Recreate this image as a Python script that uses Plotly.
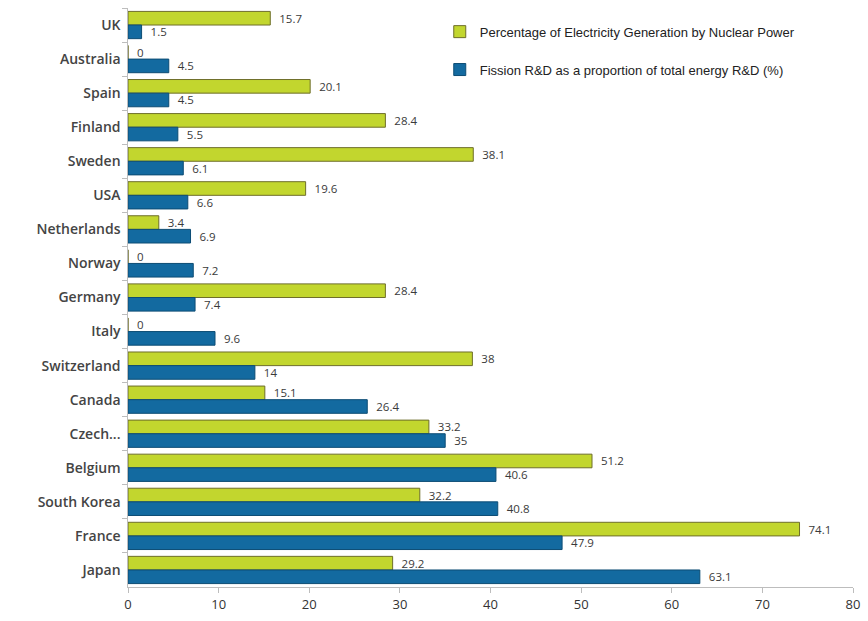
import plotly.graph_objects as go

countries = ["UK", "Australia", "Spain", "Finland", "Sweden", "USA", "Netherlands",
             "Norway", "Germany", "Italy", "Switzerland", "Canada", "Czech...",
             "Belgium", "South Korea", "France", "Japan"]
nuclear_share = [15.7, 0, 20.1, 28.4, 38.1, 19.6, 3.4, 0, 28.4, 0, 38, 15.1, 33.2,
                 51.2, 32.2, 74.1, 29.2]
fission_rd = [1.5, 4.5, 4.5, 5.5, 6.1, 6.6, 6.9, 7.2, 7.4, 9.6, 14, 26.4, 35,
              40.6, 40.8, 47.9, 63.1]
x_ticks = [0, 10, 20, 30, 40, 50, 60, 70, 80]

label_font = dict(family="Open Sans, Arial, sans-serif", size=11.5, color="#3a3a3a")

fig = go.Figure()
fig.add_trace(go.Bar(
    y=countries, x=nuclear_share, orientation="h",
    name="Percentage of Electricity Generation by Nuclear Power",
    marker=dict(color="#c2d62e", line=dict(color="#6e6e2a", width=1)),
    text=[f"  {v:g}" for v in nuclear_share], textposition="outside",
    constraintext="none", textfont=label_font, cliponaxis=False, legendgroup="a",
))
fig.add_trace(go.Bar(
    y=countries, x=fission_rd, orientation="h",
    name="Fission R&D as a proportion of total energy R&D (%)",
    marker=dict(color="#136aa0", line=dict(color="#0c4c74", width=1)),
    text=[f"  {v:g}" for v in fission_rd], textposition="outside",
    constraintext="none", textfont=label_font, cliponaxis=False, legendgroup="b",
))

fig.update_layout(
    width=868, height=621,
    margin=dict(l=128, r=13, t=8, b=29),
    paper_bgcolor="white", plot_bgcolor="white",
    barmode="group", bargap=0.2, bargroupgap=0.0,
    font=dict(family="Open Sans, Arial, sans-serif", color="#333333"),
    legend=dict(
        x=0.43, y=0.985, xanchor="left", yanchor="top",
        font=dict(family="Liberation Sans, Arial, sans-serif", size=13, color="#222222"),
        bgcolor="rgba(255,255,255,0)", traceorder="grouped", tracegroupgap=18,
    ),
    xaxis=dict(
        range=[0, 80], tickvals=x_ticks, showgrid=False, zeroline=False,
        showline=True, linecolor="#bdbdbd", ticks="outside", tickcolor="#bdbdbd",
        ticklen=5, tickfont=dict(size=13, color="#333333"),
    ),
    yaxis=dict(
        autorange="reversed", showgrid=False, showline=True, linecolor="#bdbdbd",
        ticks="outside", tickson="boundaries", tickcolor="#bdbdbd", ticklen=5,
        tickfont=dict(size=14, color="#444444", weight=600), ticksuffix=" ",
    ),
)

fig.write_html("out.html")
